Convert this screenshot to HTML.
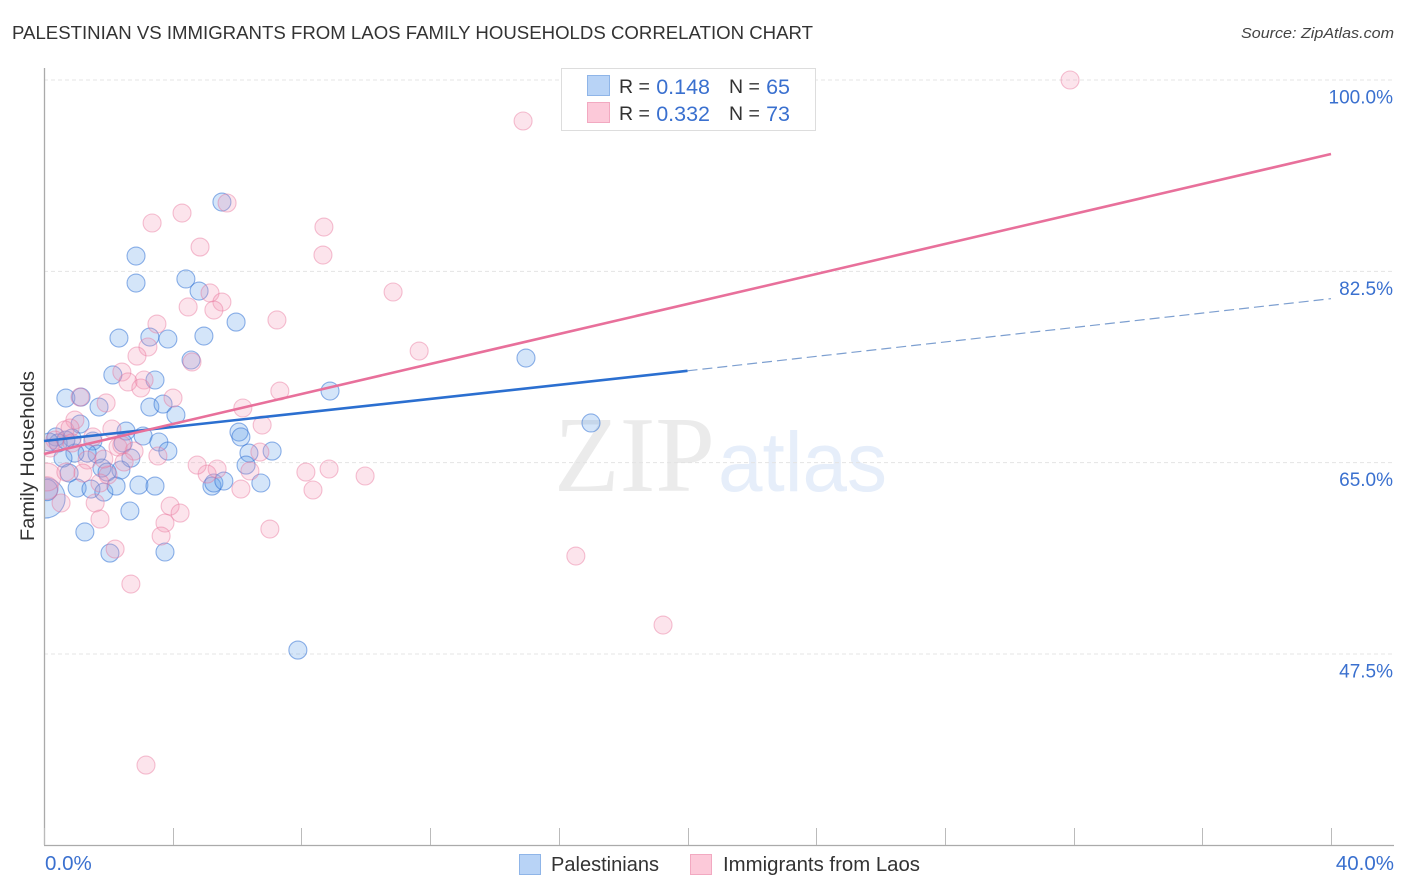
<!DOCTYPE html>
<html lang="en">
<head>
<meta charset="utf-8">
<title>Palestinian vs Immigrants from Laos Family Households Correlation Chart</title>
<style>
html,body{margin:0;padding:0;background:#fff;width:1406px;height:892px;overflow:hidden}
svg{display:block;font-family:"Liberation Sans",sans-serif}
</style>
</head>
<body>
<svg id="chart" xmlns="http://www.w3.org/2000/svg" width="1406" height="892" viewBox="0 0 1406 892">
  <defs>
    <clipPath id="plot-clip"><rect x="45" y="60" width="1360" height="785"/></clipPath>
  </defs>
  <text x="12" y="39" font-size="18.5" fill="#333" textLength="801" lengthAdjust="spacingAndGlyphs">PALESTINIAN VS IMMIGRANTS FROM LAOS FAMILY HOUSEHOLDS CORRELATION CHART</text>
  <text x="1394" y="38" font-size="15" font-style="italic" fill="#444" text-anchor="end" textLength="153" lengthAdjust="spacingAndGlyphs">Source: ZipAtlas.com</text>
  <g id="watermark">
    <text x="554" y="491" font-family="'Liberation Serif',serif" font-size="108" fill="#ebebeb" textLength="161" lengthAdjust="spacingAndGlyphs">ZIP</text>
    <text x="718" y="491" font-size="84" fill="#e6eefa" textLength="169" lengthAdjust="spacingAndGlyphs">atlas</text>
  </g>
  <g id="grid"></g>
  <g id="axes"></g>
  <g id="blue-points" clip-path="url(#plot-clip)"></g>
  <g id="pink-points" clip-path="url(#plot-clip)"></g>
  <g id="trend-lines"></g>
  <text transform="translate(34,456) rotate(-90)" font-size="19" fill="#333" text-anchor="middle" textLength="170" lengthAdjust="spacingAndGlyphs">Family Households</text>

  <g>
    <rect x="561.5" y="68.5" width="254" height="62" fill="#fff" stroke="#ddd"/>
    <rect x="587.5" y="75.5" width="22" height="20" fill="#b8d3f6" stroke="#8fb5e8"/>
    <rect x="587.5" y="102.5" width="22" height="20" fill="#fcc9d9" stroke="#f2a9c1"/>
    <g font-size="19.5" fill="#333">
      <text x="619" y="93">R =</text>
      <text x="729" y="93">N =</text>
      <text x="619" y="120">R =</text>
      <text x="729" y="120">N =</text>
    </g>
    <g font-size="21.5" fill="#3a70cf">
      <text x="710" y="94" text-anchor="end">0.148</text>
      <text x="790" y="94" text-anchor="end">65</text>
      <text x="710" y="121" text-anchor="end">0.332</text>
      <text x="790" y="121" text-anchor="end">73</text>
    </g>
  </g>

  <g>
    <g>
      <rect x="519.5" y="854.5" width="21" height="20" fill="#b8d3f6" stroke="#8fb5e8"/>
      <text x="551" y="871" font-size="20" fill="#333" textLength="108" lengthAdjust="spacingAndGlyphs">Palestinians</text>
    </g>
    <g>
      <rect x="690.5" y="854.5" width="21" height="20" fill="#fcc9d9" stroke="#f2a9c1"/>
      <text x="723" y="871" font-size="20" fill="#333" textLength="197" lengthAdjust="spacingAndGlyphs">Immigrants from Laos</text>
    </g>
  </g>
</svg>
<script>
// Y axis tick values and printed labels
const yTicks = [100, 82.5, 65, 47.5];
const yTickLabels = ['100.0%', '82.5%', '65.0%', '47.5%'];
// X axis tick values and printed end labels
const xTicks = [0, 4, 8, 12, 16, 20, 24, 28, 32, 36, 40];
const xEndValues = [0, 40];
const xEndLabels = ['0.0%', '40.0%'];

// Palestinians: x (%), y (%), bubble weights (first entries; the rest weigh 1)
const blueX = [0.03,0.09,5.53,2.86,2.86,4.41,4.82,5.97,2.33,3.29,3.85,4.97,14.98,17.00,7.89,0.68,1.15,1.71,2.14,3.45,4.57,3.29,3.70,4.10,1.12,0.37,0.87,1.52,2.55,3.08,3.57,3.85,6.06,6.12,8.89,6.37,7.09,6.28,2.46,1.65,1.34,0.96,0.59,0.44,2.70,2.39,1.80,1.96,0.78,1.03,1.46,1.86,2.24,2.95,3.45,5.22,5.28,5.59,6.74,2.67,1.27,2.05,3.76,0.16,0.68];
const blueY = [61.77,62.50,88.84,83.90,81.43,81.80,80.70,77.86,76.40,76.49,76.31,76.58,74.57,68.63,47.86,70.91,71.00,70.09,73.02,72.56,74.39,70.09,70.36,69.36,68.53,67.35,67.25,66.98,67.89,67.44,66.89,66.06,67.80,67.35,71.55,65.88,66.06,64.78,66.80,65.79,65.88,65.88,65.42,66.80,65.42,64.33,64.51,64.14,64.05,62.68,62.59,62.31,62.86,62.95,62.86,62.86,63.14,63.32,63.14,60.58,58.66,56.73,56.83,66.89,67.07];
const blueWeights = [5, 1.4];

// Immigrants from Laos: x (%), y (%), bubble weights (first entries; the rest weigh 1)
const pinkX = [0.09,0.09,3.17,14.89,31.89,16.53,19.24,9.98,11.66,10.85,7.24,8.70,8.67,3.36,4.29,5.69,4.85,4.48,5.16,5.53,5.28,3.51,3.23,2.89,4.60,2.42,3.11,2.61,3.01,4.01,7.33,6.18,6.78,1.93,1.12,0.96,0.65,0.81,2.11,2.80,2.30,2.42,2.49,3.54,1.34,1.21,0.34,0.19,0.87,1.99,1.74,1.59,1.74,0.53,2.21,3.92,4.23,3.76,3.64,2.70,7.02,8.36,8.86,8.14,6.12,6.40,6.71,5.38,5.07,4.76,0.68,1.52,1.86];
const pinkY = [62.68,63.69,37.34,96.25,100,56.46,50.15,63.78,75.21,80.61,78.05,86.55,83.99,86.92,87.83,88.75,84.72,79.24,80.52,79.69,78.96,77.68,75.58,74.75,74.21,73.29,72.56,72.38,71.83,70.91,71.55,70.00,68.44,70.46,71.00,68.90,67.99,68.17,68.08,66.06,66.43,66.61,65.06,65.61,65.24,64.05,67.07,66.34,66.80,63.87,63.14,61.31,59.84,61.31,57.10,61.03,60.39,59.48,58.29,53.90,58.93,62.50,64.42,64.14,62.59,64.24,65.97,64.42,63.96,64.78,64.14,67.35,65.33];
const pinkWeights = [1.6, 2.4];

// Trend lines: x stops (%) and y values (%)
const blueSolidX = [0, 20];
const blueSolidY = [66.98, 73.40];
const blueDashX = [20, 40];
const blueDashY = [73.40, 80.00];
const pinkLineX = [0, 40];
const pinkLineY = [65.79, 93.23];

const NS = 'http://www.w3.org/2000/svg';
function xScale(v){ return 44 + (v / 40) * 1287; }
function yScale(v){ return 80 + ((100 - v) / 52.5) * 574; }
function make(tag, attrs, parent){
  const e = document.createElementNS(NS, tag);
  Object.keys(attrs).forEach(function(k){ e.setAttribute(k, attrs[k]); });
  parent.appendChild(e);
  return e;
}

const grid = document.getElementById('grid');
const axes = document.getElementById('axes');

yTicks.forEach(function(t, i){
  const y = yScale(t);
  const g = make('line', {x1:44, x2:1394, y1:y, y2:y, stroke:'#e4e4e4', 'stroke-width':1, 'stroke-dasharray':'4 3'}, grid);
  
  
  const l = make('text', {x:1393, y:y + 23.5, 'font-size':19, fill:'#3a70cf', 'text-anchor':'end'}, axes);
  l.textContent = yTickLabels[i];
  
  
});

const yAxis = make('line', {x1:44.5, x2:44.5, y1:68, y2:845, stroke:'#aaa', 'stroke-width':1.3}, axes);


const xAxis = make('line', {x1:44, x2:1394, y1:845.5, y2:845.5, stroke:'#aaa', 'stroke-width':1.3}, axes);



xTicks.forEach(function(t){
  const x = Math.round(xScale(t)) + 0.5;
  const k = make('line', {x1:x, x2:x, y1:828, y2:845, stroke:'#bbb', 'stroke-width':1}, axes);
  
  
});

xEndValues.forEach(function(t, i){
  const l = make('text', {x:i === 0 ? 45 : 1394, y:870, 'font-size':20.5, fill:'#3a70cf', 'text-anchor':i === 0 ? 'start' : 'end'}, axes);
  l.textContent = xEndLabels[i];
  
  
});

const BASE_R = 9;
const bluePts = document.getElementById('blue-points');
blueX.forEach(function(v, i){
  const w = blueWeights[i] || 1;
  const c = make('circle', {cx:xScale(v), cy:yScale(blueY[i]), r:BASE_R * Math.sqrt(w), fill:'rgba(100,160,235,0.28)', stroke:'rgba(45,110,210,0.52)', 'stroke-width':1.1}, bluePts);
  
  
});

const pinkPts = document.getElementById('pink-points');
pinkX.forEach(function(v, i){
  const w = pinkWeights[i] || 1;
  const c = make('circle', {cx:xScale(v), cy:yScale(pinkY[i]), r:BASE_R * Math.sqrt(w), fill:'rgba(245,150,180,0.26)', stroke:'rgba(230,110,150,0.42)', 'stroke-width':1.1}, pinkPts);
  
  
});

const lines = document.getElementById('trend-lines');
const blueDash = make('line', {x1:xScale(blueDashX[0]), y1:yScale(blueDashY[0]), x2:xScale(blueDashX[1]), y2:yScale(blueDashY[1]), stroke:'#7d9fd0', 'stroke-width':1.2, 'stroke-dasharray':'10 5'}, lines);


const blueSolid = make('line', {x1:xScale(blueSolidX[0]), y1:yScale(blueSolidY[0]), x2:xScale(blueSolidX[1]), y2:yScale(blueSolidY[1]), stroke:'#2b6fd0', 'stroke-width':2.6}, lines);


const pinkLine = make('line', {x1:xScale(pinkLineX[0]), y1:yScale(pinkLineY[0]), x2:xScale(pinkLineX[1]), y2:yScale(pinkLineY[1]), stroke:'#e8709b', 'stroke-width':2.6}, lines);


</script>
</body>
</html>
